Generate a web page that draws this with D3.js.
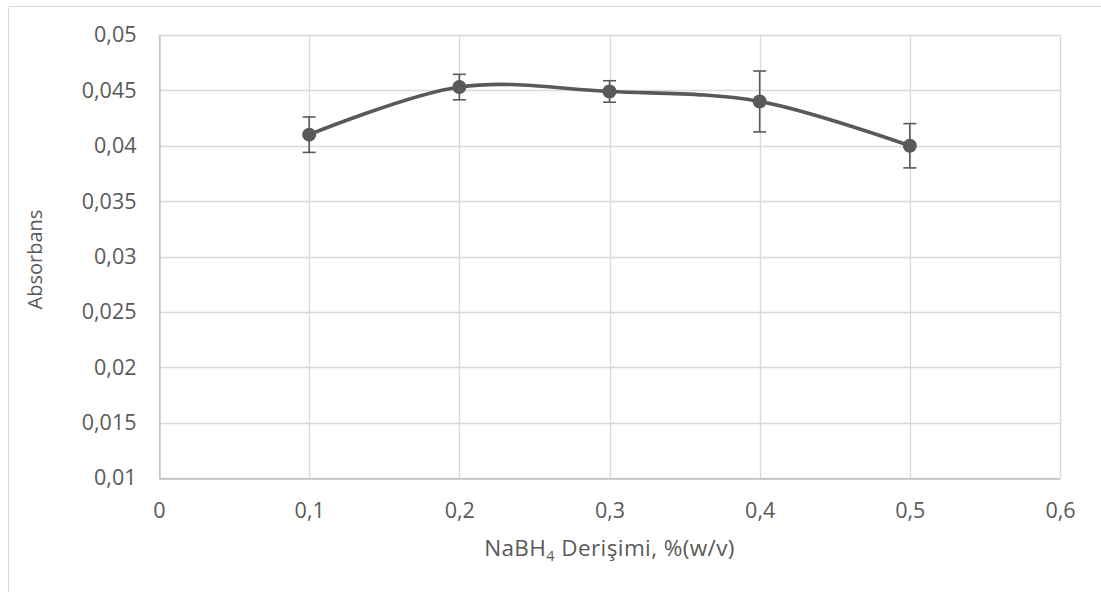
<!DOCTYPE html>
<html>
<head>
<meta charset="utf-8">
<script src="https://cdn.jsdelivr.net/npm/d3@7"></script>
<style>
  body { margin: 0; background: #fff; overflow: hidden; }
  text { font-family: "Open Sans", Lato, sans-serif; fill: #595959; }
</style>
</head>
<body>
<div id="chart"></div>
<script>
// data
const concentrations = [0.1, 0.2, 0.3, 0.4, 0.5];
const absorbance = [0.041, 0.0453, 0.0449, 0.0440, 0.0400];
const errors = [0.0016, 0.00115, 0.00097, 0.00275, 0.002];
const xTicks = [0, 0.1, 0.2, 0.3, 0.4, 0.5, 0.6];
const yTicks = [0.01, 0.015, 0.02, 0.025, 0.03, 0.035, 0.04, 0.045, 0.05];

let width = 1101;
let height = 592;
let margin = {top: 35, right: 41, bottom: 114, left: 159};
let innerWidth = width - margin.left - margin.right;
let innerHeight = height - margin.top - margin.bottom;

const fmt = d => String(d).replace(".", ",");

let svg = d3.select("#chart").append("svg")
    .attr("width", width)
    .attr("height", height)
    .style("display", "block");

// outer chart frame: only its left and top edges fall inside the picture
svg.append("path")
    .attr("d", "M8.5," + height + "V6.5H" + width)
    .attr("fill", "none")
    .attr("stroke", "#d9d9d9");

let g = svg.append("g")
    .attr("transform", "translate(" + margin.left + "," + margin.top + ")");

let xScale = d3.scaleLinear().domain([0, 0.6]).range([0, innerWidth]);
let yScale = d3.scaleLinear().domain([0.01, 0.05]).range([innerHeight, 0]);

// gridlines
g.append("g").selectAll("line.h")
    .data(yTicks)
    .join("line")
    .attr("x1", 0).attr("x2", innerWidth)
    .attr("y1", d => Math.round(yScale(d)) + 0.5)
    .attr("y2", d => Math.round(yScale(d)) + 0.5)
    .attr("stroke", "#d9d9d9").attr("stroke-width", 1.3);

g.append("g").selectAll("line.v")
    .data(xTicks)
    .join("line")
    .attr("y1", 0).attr("y2", innerHeight)
    .attr("x1", d => Math.round(xScale(d)) + 0.5)
    .attr("x2", d => Math.round(xScale(d)) + 0.5)
    .attr("stroke", "#d9d9d9").attr("stroke-width", 1.3);

// axes
let xAxis = d3.axisBottom(xScale).tickValues(xTicks).tickFormat(fmt).tickSize(0).tickPadding(24);
let yAxis = d3.axisLeft(yScale).tickValues(yTicks).tickFormat(fmt).tickSize(0).tickPadding(23);

let gx = g.append("g")
    .attr("class", "x-axis axis")
    .attr("transform", "translate(0," + (Math.round(innerHeight) + 0.5) + ")")
    .call(xAxis);
let gy = g.append("g")
    .attr("class", "y-axis axis")
    .attr("transform", "translate(0.5,0)")
    .call(yAxis);

[gx, gy].forEach(a => {
    a.select(".domain").attr("stroke", "#bfbfbf").attr("stroke-width", 1.3);
    a.selectAll("text")
        .attr("font-family", "'Open Sans', Lato, sans-serif")
        .attr("font-size", 21.5)
        .attr("fill", "#595959");
});

// smoothed series line
let line = d3.line()
    .x((d, i) => xScale(concentrations[i]))
    .y(d => yScale(d))
    .curve(d3.curveCatmullRom.alpha(0));

g.append("path")
    .datum(absorbance)
    .attr("d", line)
    .attr("fill", "none")
    .attr("stroke", "#595959")
    .attr("stroke-width", 3.6)
    .attr("stroke-linejoin", "round");

// error bars
let bars = g.append("g").selectAll("g")
    .data(concentrations)
    .join("g")
    .attr("stroke", "#595959")
    .attr("stroke-width", 1.6);

bars.append("line")
    .attr("x1", d => xScale(d)).attr("x2", d => xScale(d))
    .attr("y1", (d, i) => yScale(absorbance[i] + errors[i]))
    .attr("y2", (d, i) => yScale(absorbance[i] - errors[i]));
bars.append("line")
    .attr("x1", d => xScale(d) - 6.5).attr("x2", d => xScale(d) + 6.5)
    .attr("y1", (d, i) => yScale(absorbance[i] + errors[i]))
    .attr("y2", (d, i) => yScale(absorbance[i] + errors[i]));
bars.append("line")
    .attr("x1", d => xScale(d) - 6.5).attr("x2", d => xScale(d) + 6.5)
    .attr("y1", (d, i) => yScale(absorbance[i] - errors[i]))
    .attr("y2", (d, i) => yScale(absorbance[i] - errors[i]));

// markers
g.append("g").selectAll("circle")
    .data(absorbance)
    .join("circle")
    .attr("cx", (d, i) => xScale(concentrations[i]))
    .attr("cy", d => yScale(d))
    .attr("r", 7)
    .attr("fill", "#595959");

// axis titles
let xTitle = svg.append("text")
    .attr("x", margin.left + innerWidth / 2)
    .attr("y", 556)
    .attr("text-anchor", "middle")
    .attr("font-size", 22.5)
    .attr("letter-spacing", 0.4);
xTitle.append("tspan").text("NaBH");
xTitle.append("tspan").attr("font-size", 14.5).attr("dy", 5).text("4");
xTitle.append("tspan").attr("dy", -5).text(" Derişimi, %(w/v)");

svg.append("text")
    .attr("transform", "translate(42," + (margin.top + innerHeight / 2 + 3) + ") rotate(-90)")
    .attr("text-anchor", "middle")
    .attr("font-size", 20)
    .text("Absorbans");
</script>
</body>
</html>
